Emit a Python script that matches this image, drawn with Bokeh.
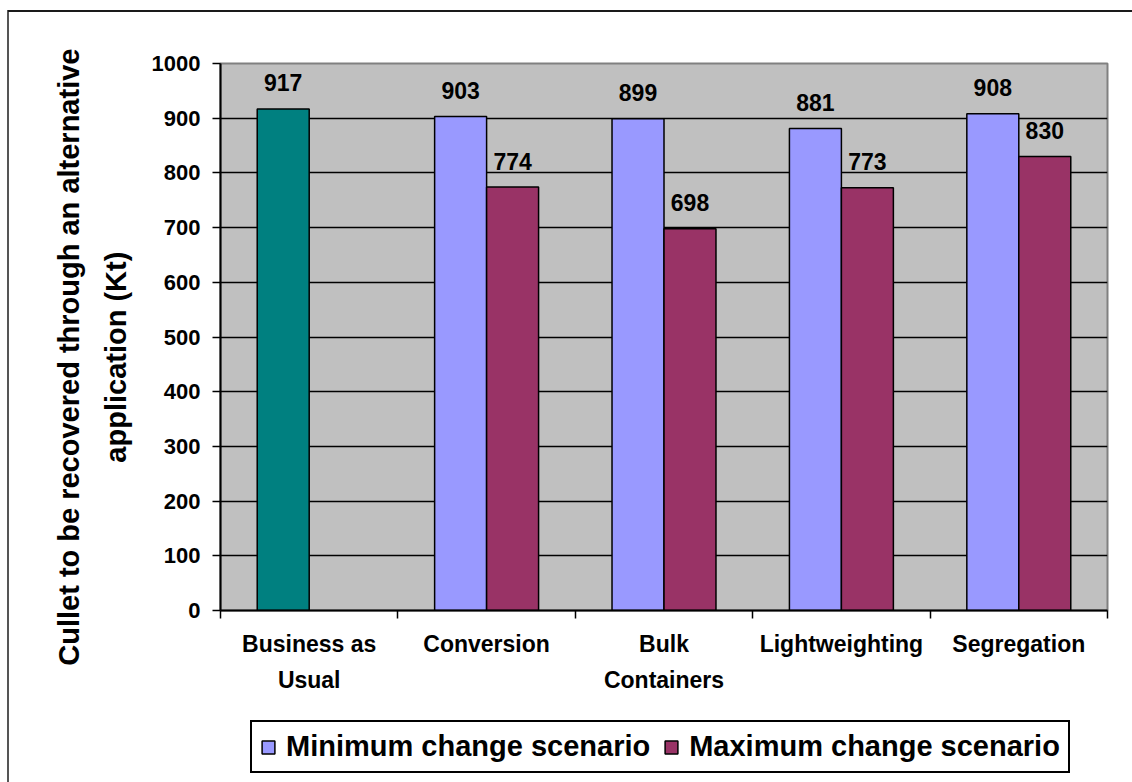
from bokeh.plotting import figure
from bokeh.layouts import column
from bokeh.models import (Range1d, FixedTicker, ColumnDataSource, LabelSet, LinearAxis,
                          Legend, LegendItem)
from bokeh.core.properties import value
from bokeh.embed import file_html
from bokeh.resources import INLINE

# ---- data ----
categories = ["Business as\nUsual", "Conversion", "Bulk\nContainers", "Lightweighting", "Segregation"]
bau_value = [917]
min_change = [903, 899, 881, 908]
max_change = [774, 698, 773, 830]
y_ticks = [0, 100, 200, 300, 400, 500, 600, 700, 800, 900, 1000]
y_title = ["Cullet to be recovered through an alternative", "application (Kt)"]
series_names = ["Minimum change scenario", "Maximum change scenario"]

FONT = "Liberation Sans"
BAR_W = 0.293
NBSP = "\u00a0"
COL_BAU, COL_MIN, COL_MAX = "#008080", "#9999FF", "#993366"

centers = list(range(1, len(categories) + 1))
bau_src = ColumnDataSource(dict(x=[centers[0] - BAR_W / 2], top=bau_value,
                                lab=[str(v) for v in bau_value]))
min_src = ColumnDataSource(dict(x=[c - BAR_W / 2 for c in centers[1:]], top=min_change,
                                lab=[str(v) for v in min_change]))
max_src = ColumnDataSource(dict(x=[c + BAR_W / 2 for c in centers[1:]], top=max_change,
                                lab=[str(v) for v in max_change]))

MAIN_H = 716
p = figure(width=1132, height=MAIN_H, output_backend="svg", toolbar_location=None,
           x_range=Range1d(0.5, len(categories) + 0.5), y_range=Range1d(0, 1000),
           min_border_left=220, min_border_right=25, min_border_top=63,
           min_border_bottom=MAIN_H - 610)

p.border_fill_color = None
p.background_fill_color = "#C0C0C0"
p.outline_line_color = "#808080"
p.outline_line_width = 2
p.styles = {
    "background-image": "linear-gradient(#1a1a1a,#1a1a1a), linear-gradient(#555555,#555555)",
    "background-size": "1124px 2px, 2px %dpx" % (MAIN_H - 10),
    "background-position": "8px 10px, 7px 10px",
    "background-repeat": "no-repeat",
}

# grid
p.xgrid.visible = False
p.ygrid.ticker = FixedTicker(ticks=y_ticks[1:-1])
p.ygrid.grid_line_color = "black"
p.ygrid.grid_line_width = 1.5

# bars
bar_kw = dict(width=BAR_W, bottom=0, line_color="black", line_width=1.5)
p.vbar(x="x", top="top", source=bau_src, fill_color=COL_BAU, **bar_kw)
p.vbar(x="x", top="top", source=min_src, fill_color=COL_MIN, **bar_kw)
p.vbar(x="x", top="top", source=max_src, fill_color=COL_MAX, **bar_kw)

# value labels
for src in (bau_src, min_src, max_src):
    p.add_layout(LabelSet(x="x", y="top", text="lab", source=src, y_offset=26,
                          text_align="center", text_baseline="middle",
                          text_font=value(FONT), text_font_style="bold",
                          text_font_size="23px", text_color="black"))

# y axis
ya = p.yaxis[0]
ya.ticker = FixedTicker(ticks=y_ticks)
ya.axis_line_color = "black"
ya.axis_line_width = 2
ya.major_tick_line_color = "black"
ya.major_tick_line_width = 1.5
ya.major_tick_in = 0
ya.major_tick_out = 8
ya.minor_tick_line_color = None
ya.major_label_standoff = 12
ya.major_label_text_font = FONT
ya.major_label_text_font_style = "bold"
ya.major_label_text_font_size = "22px"
ya.major_label_text_color = "black"
ya.axis_label = y_title[1] + NBSP * 5
ya.axis_label_standoff = 17
ya.axis_label_text_font = FONT
ya.axis_label_text_font_style = "bold"
ya.axis_label_text_font_size = "29px"
ya.axis_label_text_color = "black"

# outer title line (extra axis, no ticks)
ya2 = LinearAxis(ticker=FixedTicker(ticks=[]), axis_line_color=None,
                 major_tick_out=0, major_tick_in=0, minor_tick_out=0, minor_tick_in=0,
                 major_tick_line_color=None, minor_tick_line_color=None,
                 major_label_standoff=0,
                 axis_label=y_title[0] + NBSP * 5, axis_label_standoff=12,
                 axis_label_text_font=FONT, axis_label_text_font_style="bold",
                 axis_label_text_font_size="29px", axis_label_text_color="black")
p.add_layout(ya2, "left")

# x axis
xa = p.xaxis[0]
xa.ticker = FixedTicker(ticks=centers, minor_ticks=[c - 0.5 for c in centers] + [centers[-1] + 0.5])
xa.major_label_overrides = {c: lab for c, lab in zip(centers, categories)}
xa.axis_line_color = "black"
xa.axis_line_width = 2
xa.major_tick_line_color = None
xa.major_tick_in = 0
xa.major_tick_out = 8
xa.minor_tick_line_color = "black"
xa.minor_tick_line_width = 1.5
xa.minor_tick_in = 0
xa.minor_tick_out = 8
xa.major_label_standoff = 12
xa.major_label_text_font = FONT
xa.major_label_text_font_style = "bold"
xa.major_label_text_font_size = "23px"
xa.major_label_text_line_height = 1.42
xa.major_label_text_color = "black"

# ---- legend strip (second figure; its frame is aligned with the main frame) ----
LEG_H = 782 - MAIN_H
q = figure(width=1132, height=LEG_H, output_backend="svg", toolbar_location=None,
           x_range=Range1d(0, 1), y_range=Range1d(0, 1),
           min_border_left=220, min_border_right=25, min_border_top=0, min_border_bottom=0)
q.axis.visible = False
q.grid.visible = False
q.outline_line_color = None
q.border_fill_color = None
q.background_fill_color = None
q.styles = {
    "background-image": "linear-gradient(#555555,#555555)",
    "background-size": "2px %dpx" % LEG_H,
    "background-position": "7px 0px",
    "background-repeat": "no-repeat",
}
# swatch renderers for the legend (hidden underneath the legend box itself)
leg_min = q.vbar(x=[0.5], top=[0.6], bottom=[0.35], width=0.01, fill_color=COL_MIN,
                 line_color="black", line_width=1.5)
leg_max = q.vbar(x=[0.5], top=[0.6], bottom=[0.35], width=0.01, fill_color=COL_MAX,
                 line_color="black", line_width=1.5)

legend = Legend(items=[LegendItem(label=series_names[0], renderers=[leg_min]),
                       LegendItem(label=series_names[1], renderers=[leg_max])],
                orientation="horizontal", location=(30, 9),
                border_line_color="black", border_line_width=2, border_line_alpha=1.0,
                background_fill_color="white", background_fill_alpha=1.0,
                padding=8, spacing=13, margin=0,
                glyph_width=16, glyph_height=16, label_standoff=10,
                label_text_font=FONT, label_text_font_style="bold",
                label_text_font_size="29px", label_text_color="black")
q.add_layout(legend, "center")

layout = column(p, q, spacing=0)
open("out.html", "w").write(file_html(layout, INLINE))
